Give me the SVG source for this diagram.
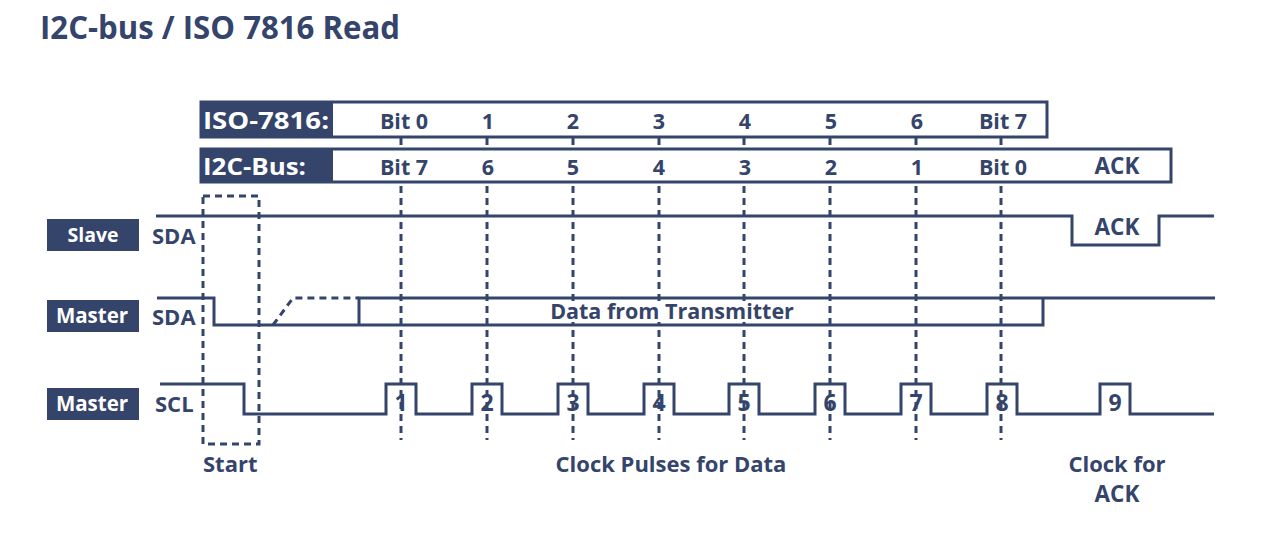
<svg xmlns="http://www.w3.org/2000/svg" width="1266" height="534" viewBox="0 0 1266 534">
<style>
text{font-family:"Open Sans","Liberation Sans",sans-serif;font-weight:700;fill:#34446a}
.w{fill:#ffffff}
.m{text-anchor:middle}
.wave{fill:none;stroke:#34446a;stroke-width:3}
.dash{fill:none;stroke:#34446a;stroke-width:3;stroke-dasharray:7 5}
.box{fill:#ffffff;stroke:#34446a;stroke-width:3}
.lab{fill:#34446a}
</style>
<rect width="1266" height="534" fill="#ffffff"/>
<text x="40" y="39" font-size="32" textLength="360" lengthAdjust="spacingAndGlyphs">I2C-bus / ISO 7816 Read</text>

<g id="connectors">
<g id="bit-guides">
<path class="dash" d="M401,126V440M487,126V440M573,126V440M659,126V440M744,126V440M830,126V440M916,126V440M1001,126V440"/>
</g>
<path id="start-window" class="dash" stroke-dasharray="6 5" d="M203,196H259V444H203Z"/>
</g>

<g id="iso-row">
<rect class="box" x="201" y="102" width="846" height="35"/>
<rect class="lab" x="200" y="101" width="133" height="37"/>
<text class="w" x="203" y="129" font-size="24" textLength="126" lengthAdjust="spacingAndGlyphs">ISO-7816:</text>
<text class="m" x="404" y="129" font-size="21.5">Bit 0</text>
<text class="m" x="488" y="129" font-size="21.5">1</text>
<text class="m" x="573" y="129" font-size="21.5">2</text>
<text class="m" x="659" y="129" font-size="21.5">3</text>
<text class="m" x="745" y="129" font-size="21.5">4</text>
<text class="m" x="831" y="129" font-size="21.5">5</text>
<text class="m" x="917" y="129" font-size="21.5">6</text>
<text class="m" x="1003" y="129" font-size="21.5">Bit 7</text>
</g>

<g id="i2c-row">
<rect class="box" x="201" y="149" width="970" height="33"/>
<rect class="lab" x="200" y="148" width="133" height="35"/>
<text class="w" x="203" y="175" font-size="24" textLength="103" lengthAdjust="spacingAndGlyphs">I2C-Bus:</text>
<text class="m" x="404" y="175" font-size="21.5">Bit 7</text>
<text class="m" x="488" y="175" font-size="21.5">6</text>
<text class="m" x="573" y="175" font-size="21.5">5</text>
<text class="m" x="659" y="175" font-size="21.5">4</text>
<text class="m" x="745" y="175" font-size="21.5">3</text>
<text class="m" x="831" y="175" font-size="21.5">2</text>
<text class="m" x="917" y="175" font-size="21.5">1</text>
<text class="m" x="1003" y="175" font-size="21.5">Bit 0</text>
<text class="m" x="1117" y="174" font-size="22.5">ACK</text>
</g>

<g id="slave-sda">
<rect class="lab" x="47" y="219" width="92" height="32"/>
<text class="w m" x="93" y="242" font-size="19.5">Slave</text>
<text x="152" y="244" font-size="22">SDA</text>
<path class="wave" d="M156,216H1072V245H1159V216H1214"/>
<text class="m" x="1117" y="235" font-size="22.5">ACK</text>
</g>

<g id="master-sda">
<rect class="lab" x="47" y="300" width="92" height="32"/>
<text class="w m" x="92" y="323" font-size="20.5">Master</text>
<text x="152" y="325" font-size="22">SDA</text>
<path class="wave" d="M157,298H214V325H1043V298M359,325V298H1215"/>
<path class="dash" stroke-dasharray="6 5" d="M273,325L293,298H359"/>
<rect x="548" y="301" width="250" height="21" fill="#ffffff"/>
<text class="m" x="672" y="319" font-size="21.5">Data from Transmitter</text>
</g>

<g id="master-scl">
<rect class="lab" x="47" y="388" width="92" height="32"/>
<text class="w m" x="92" y="411" font-size="20.5">Master</text>
<text x="155" y="412" font-size="22">SCL</text>
<path class="wave" d="M160,384H244V414H386V384H416V414H472V384H502V414H558V384H588V414H644V384H674V414H729V384H759V414H815V384H845V414H901V384H931V414H987V384H1017V414H1100V384H1130V414H1214"/>
<text class="m" x="401" y="411" font-size="23">1</text>
<text class="m" x="487" y="411" font-size="23">2</text>
<text class="m" x="573" y="411" font-size="23">3</text>
<text class="m" x="659" y="411" font-size="23">4</text>
<text class="m" x="744" y="411" font-size="23">5</text>
<text class="m" x="830" y="411" font-size="23">6</text>
<text class="m" x="916" y="411" font-size="23">7</text>
<text class="m" x="1002" y="411" font-size="23">8</text>
<text class="m" x="1115" y="411" font-size="23">9</text>
</g>

<g id="captions">
<text x="203" y="472" font-size="22">Start</text>
<text class="m" x="671" y="472" font-size="22">Clock Pulses for Data</text>
<text class="m" x="1117" y="472" font-size="22">Clock for</text>
<text class="m" x="1117" y="502" font-size="22.5">ACK</text>
</g>
</svg>
